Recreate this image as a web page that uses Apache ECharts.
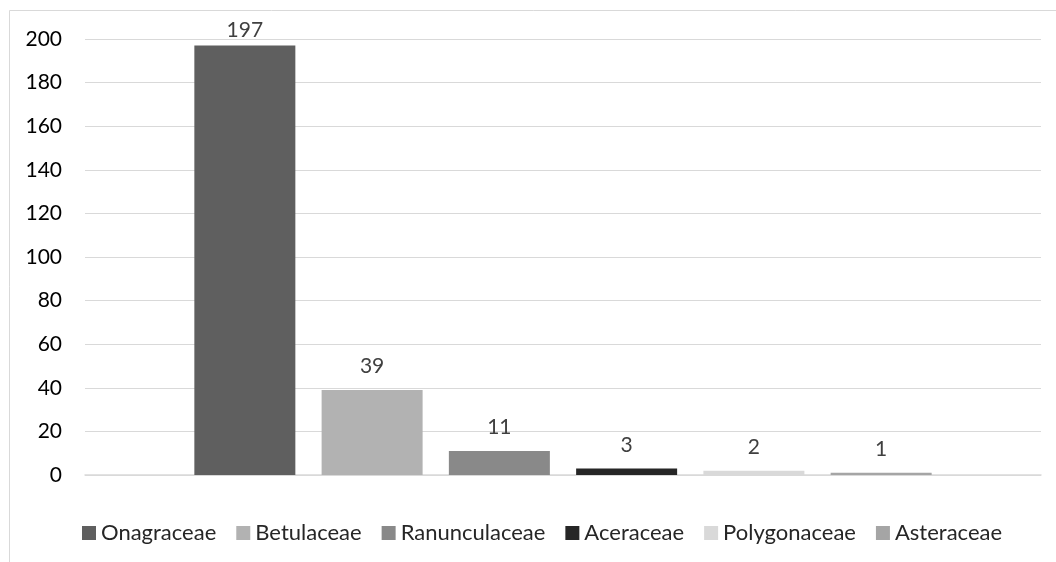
<!DOCTYPE html>
<html>
<head>
<meta charset="utf-8">
<script src="https://cdn.jsdelivr.net/npm/echarts@6/dist/echarts.min.js"></script>
<style>
html,body{margin:0;padding:0;background:#fff;}
#chart{width:1056px;height:562px;}
</style>
</head>
<body>
<div id="chart"></div>
<script>
const categories = [''];
const seriesNames = ['Onagraceae', 'Betulaceae', 'Ranunculaceae', 'Aceraceae', 'Polygonaceae', 'Asteraceae'];
const seriesValues = [197, 39, 11, 3, 2, 1];
const seriesColors = ['#5f5f5f', '#b2b2b2', '#898989', '#262626', '#d9d9d9', '#a5a5a5'];
const yTicks = [0, 20, 40, 60, 80, 100, 120, 140, 160, 180, 200];

const chart = echarts.init(document.getElementById('chart'), null, {renderer: 'canvas'});
const FONT = 'Lato, "Open Sans", sans-serif';

const series = seriesNames.map((name, i) => ({
  name: name,
  type: 'bar',
  data: [seriesValues[i]],
  barWidth: 101,
  barGap: '26%',
  itemStyle: {color: seriesColors[i]},
  label: {
    show: true,
    position: 'top',
    distance: i === 0 ? 5 : 13,
    color: '#404040',
    fontFamily: FONT,
    fontSize: 21
  }
}));

chart.setOption({
  animation: false,
  backgroundColor: '#ffffff',
  graphic: [{
    type: 'rect',
    shape: {x: 9.5, y: 10.5, width: 1100, height: 600},
    style: {fill: 'none', stroke: '#d9d9d9', lineWidth: 1},
    silent: true
  }],
  grid: {left: 85, right: 15, top: 39, bottom: 87, containLabel: false},
  legend: {
    data: seriesNames,
    left: 77,
    top: 517,
    icon: 'rect',
    itemWidth: 14,
    itemHeight: 14,
    itemGap: 20,
    textStyle: {fontFamily: FONT, fontSize: 22, color: '#262626'}
  },
  xAxis: {
    type: 'category',
    data: categories,
    axisLine: {show: true, lineStyle: {color: '#d9d9d9', width: 1.5}},
    axisTick: {show: false},
    axisLabel: {show: false}
  },
  yAxis: {
    type: 'value',
    min: yTicks[0],
    max: yTicks[yTicks.length - 1],
    interval: yTicks[1] - yTicks[0],
    axisLine: {show: false},
    axisTick: {show: false},
    splitLine: {lineStyle: {color: '#d9d9d9', width: 1}},
    axisLabel: {
      fontFamily: FONT,
      fontSize: 21,
      color: '#000000',
      margin: 23
    }
  },
  series: series
});
</script>
</body>
</html>
